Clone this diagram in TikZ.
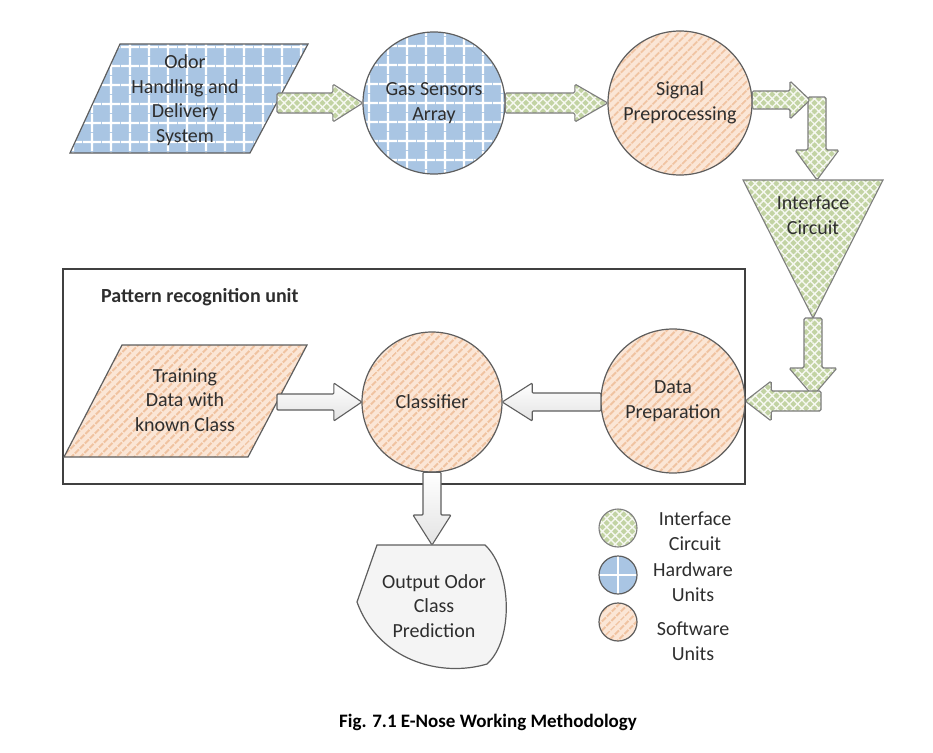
\documentclass[tikz,border=0pt]{standalone}
\usepackage{fontspec}
\setmainfont{Carlito}
\usetikzlibrary{patterns.meta}
\definecolor{hwblue}{HTML}{A9C5E3}
\definecolor{swpeach}{HTML}{FBE6D6}
\definecolor{swstripe}{HTML}{F0C3A1}
\definecolor{ifgreen}{HTML}{C2D3A3}
\definecolor{edge}{HTML}{5E5E5E}
\definecolor{txt}{HTML}{2E2E2E}
\newcommand\harrow[6]{%
  \coordinate (hA) at (#2 |- #3);
  \path[#1] ([shift={(0,#4)}]hA) -- ([shift={(#6,#4)}]#3) -- ([shift={(#6,#5)}]#3) -- (#3)
    -- ([shift={(#6,-#5)}]#3) -- ([shift={(#6,-#4)}]#3) -- ([shift={(0,-#4)}]hA) -- cycle;}
\newcommand\varrow[6]{%
  \coordinate (vA) at (#2 -| #3);
  \path[#1] ([shift={(#4,0)}]vA) -- ([shift={(#4,#6)}]#3) -- ([shift={(#5,#6)}]#3) -- (#3)
    -- ([shift={(-#5,#6)}]#3) -- ([shift={(-#4,#6)}]#3) -- ([shift={(-#4,0)}]vA) -- cycle;}
\tikzset{
  hw/.style={fill=hwblue, postaction={pattern={Hatch[distance=18.5pt,line width=2.3pt]}, pattern color=white}, postaction={draw=edge, line width=1.2pt}},
  sw/.style={fill=swpeach, postaction={pattern={Lines[angle=45,distance=6.5pt,line width=2.3pt]}, pattern color=swstripe}, postaction={draw=edge, line width=1.2pt}},
  ifc/.style={fill=ifgreen, postaction={pattern={Hatch[angle=45,distance=6pt,line width=1.4pt]}, pattern color=white!85!ifgreen}, postaction={draw=edge!80, line width=1.1pt}},
  warr/.style={top color=white, bottom color=gray!22, draw=edge, line width=1.1pt, rounded corners=1pt},
  garr/.style={ifc, rounded corners=1.5pt},
  lbl/.style={text=txt, align=center, inner sep=0pt, font=\fontsize{20}{24.5}\selectfont},
  circ/.style={circle, inner sep=0pt, lbl},
}
\begin{document}
\begin{tikzpicture}[x=1pt,y=-1pt]
\fill[white] (0,0) rectangle (933,752);
\useasboundingbox (0,0) rectangle (933,752);

% pattern recognition box
\draw[line width=1.2pt, black!75] (63,269) rectangle (745,484);
\node[text=txt, anchor=west, inner sep=0pt, font=\bfseries\fontsize{20}{24}\selectfont] (prl) at (101,297) {Pattern recognition unit};

% top row
\path[hw] (70,153) -- (120,44) -- (308,44) -- (250,153) -- cycle;
\node[lbl] (odor) at (185,100) {Odor\\Handling and\\Delivery\\System};
\coordinate (odorR) at (277,102);
\node[circ, hw, minimum size=142pt] (gas) at (434,103) {Gas Sensors\\Array};
\node[circ, sw, minimum size=144pt] (sig) at (680,103) {Signal\\Preprocessing};

\path[ifc] (743,180) -- (883,180) -- (813,318) -- cycle;
\node[lbl] (iface) at (813,215) {Interface\\Circuit};
\coordinate (triT) at (817,180);
\coordinate (triB) at (813,318);

% bottom row
\path[sw] (64,457) -- (122,345) -- (307,345) -- (248,457) -- cycle;
\node[lbl] (train) at (185,400) {Training\\Data with\\known Class};
\coordinate (trainR) at (277,402);
\node[circ, sw, minimum size=140pt] (cls) at (432,402) {Classifier};
\node[circ, sw, minimum size=144pt] (dat) at (673,401) {Data\\Preparation};

% output
\path[fill=gray!9, draw=edge, line width=1.2pt] (377,545) -- (485,545)
  .. controls (512,570) and (514,640) .. (487,664)
  .. controls (440,678) and (378,660) .. (357,602)
  .. controls (364,582) and (371,562) .. (377,545) -- cycle;
\node[lbl] (out) at (434,606) {Output Odor\\Class\\Prediction};
\coordinate (outT) at (432,545);

% connectors
\harrow{garr}{odorR}{gas.west}{10}{19}{-30}
\harrow{garr}{gas.east}{sig.west}{10}{19}{-33}
\coordinate (bend) at (817,97);
\varrow{garr}{bend}{triT}{9}{22}{-30}
\coordinate (rtip) at (810,100);
\harrow{garr}{sig.east}{rtip}{9}{19}{-20}
\coordinate (dtip) at (813,396);
\varrow{garr}{triB}{dtip}{9}{24}{-28}
\coordinate (lstart) at (821,400);
\harrow{garr}{lstart}{dat.east}{10}{20}{26}
\harrow{warr}{trainR}{cls.west}{8}{19}{-28}
\harrow{warr}{dat.west}{cls.east}{9}{19}{30}
\varrow{warr}{cls.south}{outT}{9}{19}{-30}

% legend
\node[circle, minimum size=38pt, inner sep=0pt, ifc] (lg1) at (618,528) {};
\fill[hwblue] (618,575) circle (19);
\draw[white, line width=2.5pt] (599,575) -- (637,575) (618,556) -- (618,594);
\node[circle, minimum size=38pt, inner sep=0pt, draw=edge, line width=1.2pt] (lg2) at (618,575) {};
\node[circle, minimum size=38pt, inner sep=0pt, sw] (lg3) at (618,622) {};
\node[lbl] (lt1) at (695,531) {Interface\\Circuit};
\node[lbl] (lt2) at (693,582) {Hardware\\Units};
\node[lbl] (lt3) at (693,641) {Software\\Units};

% caption
\node[font=\bfseries\fontsize{19}{22}\selectfont, inner sep=0pt] (cap) at (488,722) {Fig. 7.1 E-Nose Working Methodology};
\end{tikzpicture}
\end{document}
